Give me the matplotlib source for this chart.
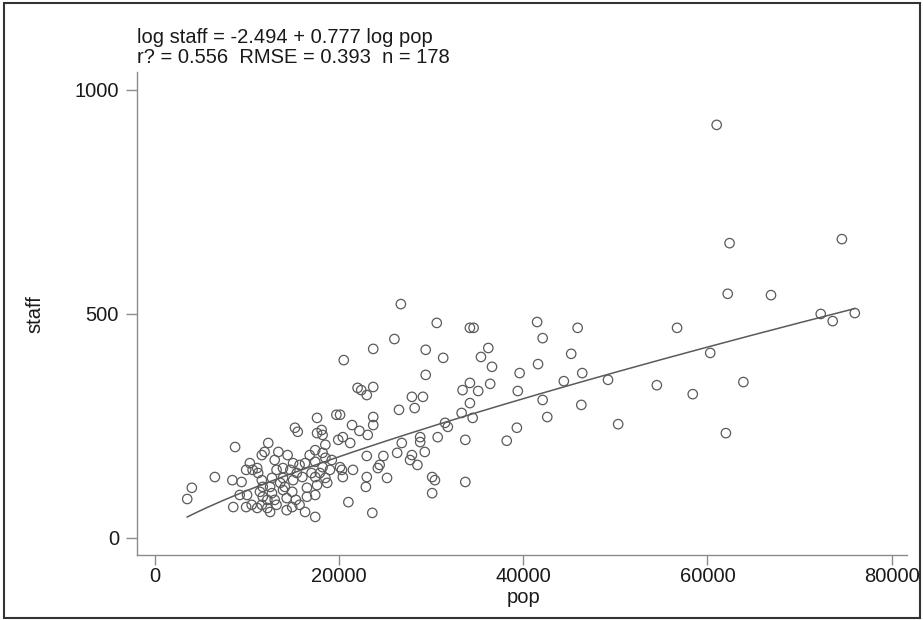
import numpy as np
import matplotlib
matplotlib.use("Agg")
import matplotlib.pyplot as plt
from matplotlib.patches import Rectangle

plt.rcParams["font.family"] = ["Liberation Sans", "DejaVu Sans"]

# values
pop = [3500, 4000, 6500, 8700, 8400, 9400, 8500, 9900, 10000, 10300,
       10600, 11100, 11200, 11600, 12300, 11900, 13400, 13000, 13900, 13200,
       12700, 12500, 11700, 11400, 11700, 12200, 12700, 13000, 11100, 11600,
       12200, 12500, 13200, 14300, 14900, 14100, 13900, 15000, 15400, 15000,
       15700, 16300, 15700, 14900, 14300, 16500, 16500, 17400, 17600, 17400,
       17400, 17900, 17400, 18200, 17400, 15200, 15500, 17600, 17600, 18100,
       18200, 18200, 18500, 18500, 16000, 17000, 13900, 10500,
       9900, 14700, 13600, 15300, 16800, 11600, 14400, 16300, 18500, 9200,
       18700, 19000, 19200, 19700, 20100, 19900, 20100, 20300, 20400, 20400,
       21000, 21200, 21400, 21500, 22200, 22000, 22400, 23000, 23700, 23000,
       22900, 23000, 23100, 23700, 23700, 23600, 24200, 24400, 24800, 25200,
       26300, 26500, 26800, 27900, 28200, 29100, 27700, 27900, 28500, 28800,
       28800, 29300, 30100, 30400, 30100, 30700, 31500, 31800, 33300, 33400,
       34200, 34500, 33700, 33700, 34200,
       26700, 30600, 34200, 34600, 26000, 23700, 29400, 31300, 20500, 29400,
       62200, 66900, 72300, 73600, 76000, 41500, 45900, 56700, 42100, 36200,
       35400, 36600, 45200, 41600, 39600, 46400, 60300, 35100, 36400, 44400,
       49200, 39400, 42100, 54500, 63900, 58400, 46300, 42600, 50300, 39300,
       38200, 62000, 61000, 62400, 74600]
staff = [87, 112, 136, 203, 129, 125, 69, 69, 96, 167,
         152, 156, 145, 185, 212, 192, 192, 174, 156, 152,
         134, 114, 114, 103, 92, 85, 100, 85, 67, 74,
         67, 58, 74, 89, 103, 114, 134, 129, 145, 167,
         163, 167, 74, 69, 62, 92, 112, 96, 118, 196,
         170, 145, 136, 158, 47, 246, 237, 268, 234, 241,
         230, 190, 179, 134, 136, 145, 107, 74,
         152, 152, 123, 85, 185, 129, 185, 58, 208, 96,
         123, 152, 174, 275, 275, 219, 158, 152, 136, 225,
         80, 212, 252, 152, 239, 335, 330, 319, 337, 136,
         114, 183, 230, 270, 252, 56, 156, 163, 183, 134,
         190, 286, 212, 315, 290, 315, 174, 185, 163, 214,
         225, 192, 136, 129, 100, 225, 257, 248, 279, 330,
         301, 268, 219, 125, 346,
         522, 480, 469, 469, 444, 422, 420, 402, 397, 364,
         545, 542, 500, 484, 502, 482, 469, 469, 446, 424,
         404, 382, 411, 388, 368, 368, 413, 328, 344, 350,
         353, 328, 308, 341, 348, 321, 297, 270, 254, 246,
         217, 234, 922, 658, 667]

# fitted model shown in the chart header
intercept = -2.494
slope = 0.777
fit_label = ["log staff = -2.494 + 0.777 log pop",
             "r? = 0.556  RMSE = 0.393  n = 178"]

fig = plt.figure(figsize=(9.23, 6.2), dpi=100)
ax = fig.add_axes([137 / 923, 65 / 620, 770 / 923, 483 / 620])

ax.scatter(pop, staff, s=46, facecolors="none", edgecolors="#5a5a5a",
           linewidths=0.9, zorder=3)

xs = np.linspace(min(pop), max(pop), 200)
ax.plot(xs, np.exp(intercept + slope * np.log(xs)), color="#5a5a5a", lw=1.1, zorder=2)

ax.set_xlim(-1955, 81670)
ax.set_ylim(-38, 1040)
ax.set_xticks([0, 20000, 40000, 60000, 80000])
ax.set_yticks([0, 500, 1000])

for s in ["top", "right"]:
    ax.spines[s].set_visible(False)
for s in ["left", "bottom"]:
    ax.spines[s].set_color("#8c8c8c")
    ax.spines[s].set_linewidth(1.0)
ax.tick_params(direction="out", length=8, width=1, color="#8c8c8c",
               labelsize=14.5, labelcolor="#1a1a1a", pad=5)
ax.tick_params(axis="x", length=7, pad=2)

fig.text(137 / 923, 1 - 43 / 620, fit_label[0], fontsize=14.5, color="#1a1a1a", va="baseline")
fig.text(137 / 923, 1 - 63 / 620, fit_label[1], fontsize=14.5, color="#1a1a1a", va="baseline")
fig.text(35 / 923, 1 - 314 / 620, "staff", fontsize=14.5, color="#1a1a1a",
         rotation=90, ha="center", va="center")
fig.text(524 / 923, 1 - 603 / 620, "pop", fontsize=14.5, color="#1a1a1a",
         ha="center", va="baseline")

fig.add_artist(Rectangle((4 / 923, 2 / 620), 916 / 923, 615 / 620,
                         transform=fig.transFigure, fill=False,
                         edgecolor="#333333", linewidth=1.5))

plt.savefig("out.png", dpi=100)
